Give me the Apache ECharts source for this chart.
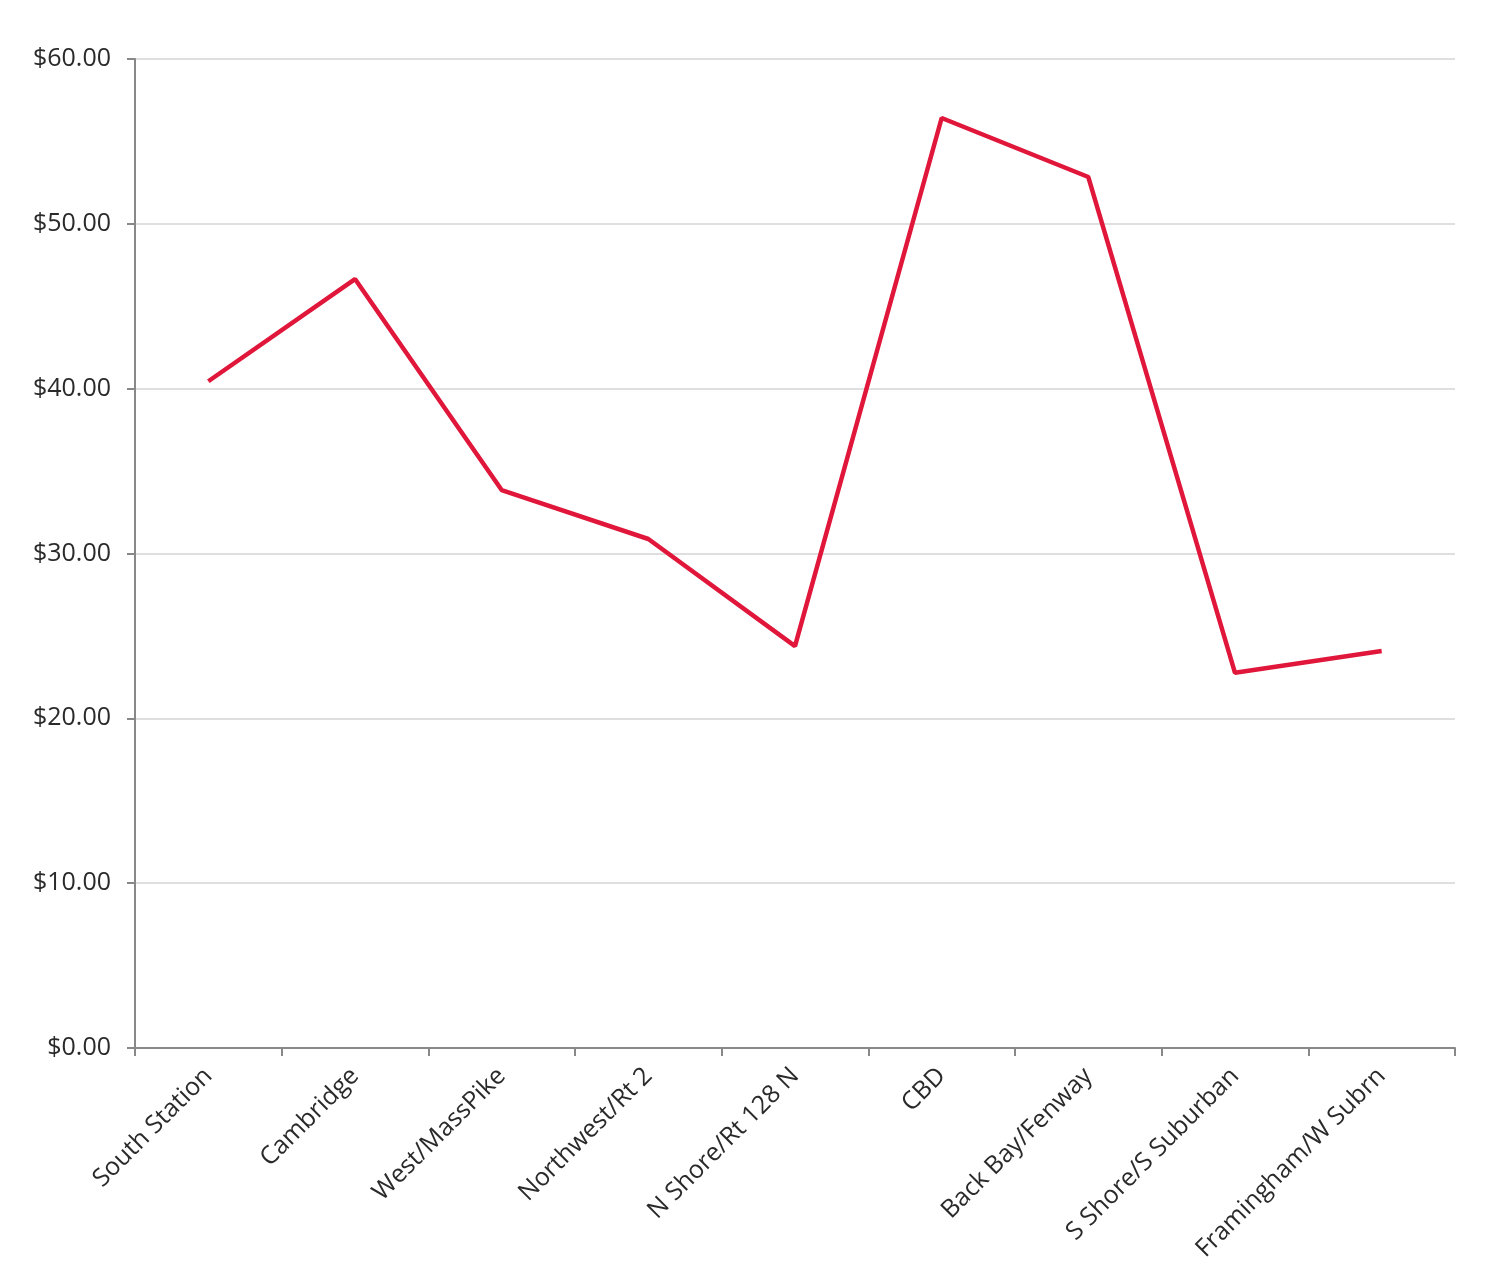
<!DOCTYPE html>
<html><head><meta charset="utf-8">
<script src="https://cdn.jsdelivr.net/npm/echarts@6/dist/echarts.min.js"></script>
<style>html,body{margin:0;padding:0;background:#fff}#c{width:1500px;height:1275px}</style>
</head><body><div id="c"></div>
<script>
const categories = ["South Station","Cambridge","West/MassPike","Northwest/Rt 2","N Shore/Rt 128 N","CBD","Back Bay/Fenway","S Shore/S Suburban","Framingham/W Subrn"];
const rents = [40.45, 46.65, 33.85, 30.88, 24.38, 56.42, 52.84, 22.76, 24.08];
const yTicks = {min: 0, max: 60, interval: 10};

const chart = echarts.init(document.getElementById('c'));
chart.setOption({
  animation: false,
  textStyle: {fontFamily: 'Open Sans'},
  grid: {left: 135, right: 45, top: 59, bottom: 227, containLabel: false},
  xAxis: {
    type: 'category', data: categories, boundaryGap: true,
    axisLine: {lineStyle: {color: '#888', width: 2}},
    axisTick: {show: true, length: 8, lineStyle: {color: '#888', width: 2}},
    axisLabel: {rotate: 45, fontSize: 25, color: '#2a2a2a', margin: 24, interval: 0, fontFamily: 'Open Sans'}
  },
  yAxis: {
    type: 'value', min: yTicks.min, max: yTicks.max, interval: yTicks.interval,
    axisLine: {show: true, lineStyle: {color: '#888', width: 2}},
    axisTick: {show: true, length: 8, lineStyle: {color: '#888', width: 2}},
    axisLabel: {fontSize: 25, color: '#2a2a2a', margin: 24, fontFamily: 'Open Sans', formatter: v => '$' + v.toFixed(2)},
    splitLine: {lineStyle: {color: '#d4d4d4', width: 1.5}}
  },
  series: [{
    type: 'line', data: rents, symbol: 'none',
    lineStyle: {color: '#e0173a', width: 4.5}
  }]
});
</script></body></html>
